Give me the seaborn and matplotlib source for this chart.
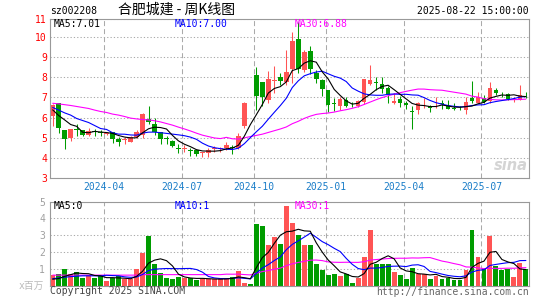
import numpy as np
import pandas as pd
import matplotlib
matplotlib.use("Agg")
import matplotlib.pyplot as plt
import seaborn as sns

# weekly candles of sz002208, first bar = week of 2024-01-22, last = 2025-08-22
open_ = [6.07, 6.71, 5.38, 4.98, 5.44, 5.36, 5.14, 5.32, 5.28, 5.20,
         5.27, 4.94, 4.86, 4.80, 5.02, 5.15, 5.95, 5.66, 5.28, 4.96,
         4.83, 4.50, 4.43, 4.36, 4.38, 4.22, 4.24, 4.42, 4.44, 4.50,
         4.52, 4.48, 5.58, 7.35, 8.10, 7.77, 6.88, 7.84, 8.00, 7.75,
         8.40, 9.90, 8.37, 9.31, 8.20, 7.87, 7.37, 6.70, 6.55, 6.86,
         6.63, 6.59, 6.79, 7.66, 7.78, 7.67, 7.46, 6.74, 6.92, 6.74,
         6.30, 6.35, 6.65, 6.55, 6.60, 6.69, 6.57, 6.44, 6.43, 6.38,
         6.96, 6.74, 6.99, 6.84, 7.37, 7.18, 7.16, 6.90, 6.87, 7.12]
high = [6.65, 6.73, 5.40, 5.42, 5.66, 5.38, 5.50, 5.45, 5.40, 5.30,
        5.28, 5.05, 5.03, 5.10, 5.38, 6.20, 6.58, 6.00, 5.30, 5.08,
        4.87, 4.70, 4.65, 4.47, 4.40, 4.30, 4.48, 4.58, 4.55, 4.80,
        4.63, 5.24, 6.75, 7.35, 8.52, 7.78, 8.32, 8.57, 8.24, 9.36,
        10.24, 10.78, 9.37, 9.57, 8.37, 7.90, 7.38, 6.96, 7.04, 7.00,
        6.75, 6.87, 7.92, 8.62, 8.03, 8.03, 7.55, 7.21, 7.05, 6.80,
        6.57, 6.78, 6.96, 6.62, 7.00, 6.86, 6.86, 6.72, 6.55, 7.00,
        7.82, 7.29, 7.10, 7.79, 7.46, 7.29, 7.22, 7.00, 7.62, 7.25]
low = [5.57, 5.24, 4.45, 4.83, 5.08, 5.08, 5.08, 5.08, 5.08, 5.15,
       4.72, 4.60, 4.66, 4.76, 4.98, 5.00, 5.66, 5.11, 4.69, 4.68,
       4.52, 4.25, 4.29, 4.08, 4.08, 4.01, 4.04, 4.30, 4.30, 4.38,
       4.20, 4.44, 5.50, 7.35, 6.38, 6.55, 6.70, 7.20, 7.62, 7.62,
       7.70, 8.20, 8.27, 8.17, 7.70, 7.08, 6.29, 6.34, 6.37, 6.50,
       6.50, 6.50, 6.68, 7.60, 7.37, 7.21, 6.74, 6.67, 6.53, 6.44,
       5.44, 6.16, 6.46, 6.29, 6.46, 6.43, 6.40, 6.38, 6.35, 6.17,
       6.73, 6.72, 6.72, 6.74, 7.12, 7.00, 6.88, 6.75, 6.85, 6.96]
close = [6.62, 5.46, 4.93, 5.41, 5.38, 5.15, 5.33, 5.28, 5.24, 5.25,
         4.95, 4.79, 4.90, 5.03, 5.28, 6.18, 5.80, 5.30, 4.94, 4.92,
         4.58, 4.43, 4.47, 4.33, 4.18, 4.26, 4.38, 4.46, 4.47, 4.62,
         4.46, 5.07, 6.74, 7.35, 7.09, 7.00, 7.92, 7.88, 7.80, 8.28,
         9.82, 8.40, 9.25, 8.40, 7.92, 7.41, 6.62, 6.65, 6.90, 6.57,
         6.60, 6.82, 7.90, 7.87, 7.74, 7.41, 7.12, 6.80, 6.71, 6.61,
         6.27, 6.70, 6.69, 6.45, 6.63, 6.66, 6.44, 6.42, 6.40, 6.79,
         6.80, 7.00, 6.79, 7.46, 7.21, 7.15, 6.91, 6.93, 7.12, 7.10]
# volume in millions (x百万)
volume = [0.62, 0.68, 0.98, 0.66, 0.80, 0.46, 0.62, 0.46, 0.54, 0.28,
          0.46, 0.54, 0.38, 0.38, 0.98, 1.94, 2.93, 1.27, 0.76, 0.45,
          0.39, 0.50, 0.48, 0.44, 0.33, 0.40, 0.40, 0.40, 0.40, 0.40,
          0.52, 0.86, 0.17, 0.09, 3.64, 3.48, 2.40, 2.83, 2.46, 4.66,
          3.66, 2.95, 2.36, 2.36, 1.27, 0.92, 0.62, 0.68, 0.56, 0.68,
          0.17, 0.46, 1.69, 3.28, 1.27, 1.27, 1.27, 0.80, 0.62, 0.38,
          1.04, 0.68, 0.68, 0.38, 0.56, 0.38, 0.48, 0.33, 0.33, 0.92,
          3.28, 1.69, 0.98, 2.93, 1.17, 0.92, 0.98, 0.50, 1.35, 0.98]

# MA values shown before each rolling window is full
ma5_head = [6.38, 6.10, 5.88, 5.65]
ma10_head = [6.50, 6.37, 6.23, 6.12, 5.95, 5.85, 5.75, 5.60, 5.45]
ma30_head = [6.71, 6.68, 6.64, 6.60, 6.55, 6.50, 6.45, 6.37, 6.30, 6.25,
             6.17, 6.12, 6.05, 5.97, 5.93, 5.90, 5.88, 5.84, 5.78, 5.70,
             5.62, 5.52, 5.43, 5.33, 5.22, 5.12, 5.05, 4.98, 4.95]
vma5_head = [0.38, 0.42, 0.55, 0.65]
vma10_head = [0.42, 0.45, 0.50, 0.53, 0.56, 0.58, 0.58, 0.58, 0.58]
vma30_head = [0.62] * 15 + [0.65] * 14

month_labels = ["2024-04", "2024-07", "2024-10", "2025-01", "2025-04", "2025-07"]
month_first_week = [9, 22, 34, 46, 59, 72]

price_labels = ["3", "4", "5", "6", "7", "8", "9", "10", "11"]
vol_labels = ["1", "2", "3", "4", "5"]

RED = "#ff5454"
GREEN = "#009c00"
BLUE_TXT = "#1a7dc8"
GRID = "#aaaaaa"
FRAME = "#999999"


def moving_avg(values, n, head):
    s = pd.Series(values, dtype=float).rolling(n).mean()
    s.iloc[:n - 1] = head
    return s


df = pd.DataFrame({"open": open_, "high": high, "low": low,
                   "close": close, "volume": volume})
df["idx"] = np.arange(len(df))
df["dir"] = np.where(df["close"] > df["open"], "up", "down")
df["ma5"] = moving_avg(close, 5, ma5_head)
df["ma10"] = moving_avg(close, 10, ma10_head)
df["ma30"] = moving_avg(close, 30, ma30_head)
df["vma5"] = moving_avg(volume, 5, vma5_head)
df["vma10"] = moving_avg(volume, 10, vma10_head)
df["vma30"] = moving_avg(volume, 30, vma30_head)

sns.set_theme(style="white")
plt.rcParams["font.family"] = ["DejaVu Sans Mono", "Noto Sans CJK SC"]

W, H = 545, 300
fig = plt.figure(figsize=(W / 100, H / 100), dpi=100)
fig.patch.set_facecolor("white")


def fx(x):
    return x / W


def fy(y):
    return 1 - y / H


ax_p = fig.add_axes([fx(50), fy(177.7), (529 - 50) / W, (177.7 - 19) / H])
ax_v = fig.add_axes([fx(50), fy(285.7), (529 - 50) / W, (285.7 - 201.7) / H])

xmin, xmax = -0.45, 79.52
tick_pos = [i - 0.42 for i in month_first_week]
p_top, v_top = 10.91, 4.93

# sina watermark (behind the marks)
ax_p.text(0.997, 0.05, "sina", transform=ax_p.transAxes, color="#d4d4d4",
          ha="right", va="baseline", size=10.5, weight="bold", style="italic",
          family="DejaVu Sans", zorder=1)

# candles
colors = [RED if d == "up" else GREEN for d in df["dir"]]
ax_p.vlines(df["idx"], df["low"], df["high"], colors=colors, lw=0.75, zorder=2)
body = np.maximum((df["close"] - df["open"]).abs(), 0.045)
ax_p.bar(df["idx"], body, bottom=np.minimum(df["open"], df["close"]),
         width=0.76, color=colors, linewidth=0, zorder=2)

for col, c in [("ma30", "#ff00ff"), ("ma10", "#0000ff"), ("ma5", "black")]:
    sns.lineplot(data=df, x="idx", y=col, color=c, lw=0.8, ax=ax_p, zorder=3)

# volume
sns.barplot(data=df, x="idx", y="volume", hue="dir",
            palette={"up": RED, "down": GREEN}, native_scale=True, dodge=False,
            width=0.82, saturation=1, linewidth=0, errorbar=None,
            legend=False, ax=ax_v, zorder=2)
for col, c in [("vma30", "#ff00ff"), ("vma10", "#0000ff"), ("vma5", "black")]:
    sns.lineplot(data=df, x="idx", y=col, color=c, lw=0.8, ax=ax_v, zorder=3)

for ax in (ax_p, ax_v):
    ax.set_xlim(xmin, xmax)
    ax.set_xlabel("")
    ax.set_ylabel("")
    ax.set_xticks(tick_pos)
    ax.grid(axis="x", color=GRID, ls=(0, (4.8, 2.9)), lw=0.75, zorder=0)
    ax.grid(axis="y", color=GRID, ls=(0, (1.2, 2.0)), lw=0.75, zorder=0)
    ax.set_axisbelow(True)
    for sp in ax.spines.values():
        sp.set_color(FRAME)
        sp.set_linewidth(0.8)
    ax.set_facecolor("white")

ax_p.set_ylim(3, p_top)
ax_p.set_yticks(list(range(3, 11)) + [p_top])
ax_p.set_yticklabels(price_labels)
ax_p.tick_params(axis="y", colors="red", length=0, pad=2.2, labelsize=7)
ax_p.set_xticklabels(month_labels)
ax_p.tick_params(axis="x", colors=BLUE_TXT, length=0, pad=3.4, labelsize=7)

ax_v.set_ylim(0, v_top)
ax_v.set_yticks([1, 2, 3, 4, v_top])
ax_v.set_yticklabels(vol_labels)
ax_v.tick_params(axis="y", colors="#a0a0a0", length=0, pad=3.6, labelsize=7)
ax_v.set_xticklabels([])
ax_v.tick_params(axis="x", length=0)

# MA legends
fs = 7
fig.text(fx(54), fy(24), "MA5:7.01", color="black", va="center", size=fs)
fig.text(fx(175), fy(24), "MA10:7.00", color="#0000ff", va="center", size=fs)
fig.text(fx(295), fy(24), "MA30:6.88", color="#ff00ff", va="center", size=fs)
fig.text(fx(54), fy(206), "MA5:0", color="black", va="center", size=fs)
fig.text(fx(175), fy(206), "MA10:1", color="#0000ff", va="center", size=fs)
fig.text(fx(295), fy(206), "MA30:1", color="#ff00ff", va="center", size=fs)

# header / footer
fig.text(fx(50), fy(11), "sz002208", color="black", va="center", size=fs)
fig.text(fx(177), fy(9.5), "合肥城建 - 周K线图", color="black", ha="center",
         va="center", size=10, family=["Noto Sans CJK SC", "DejaVu Sans"])
fig.text(fx(529), fy(11.5), "2025-08-22 15:00:00", color="black", ha="right",
         va="center", size=fs)
fig.text(fx(44), fy(285.5), "x百万", color="#bbbbbb", ha="right", va="center",
         size=7)
fig.text(fx(50), fy(291), "Copyright 2025 SINA.COM", color="#444444",
         va="center", size=fs)
fig.text(fx(529), fy(292), "http://finance.sina.com.cn", color="#666666",
         ha="right", va="center", size=fs)

fig.savefig("out.png", dpi=100, facecolor="white")
